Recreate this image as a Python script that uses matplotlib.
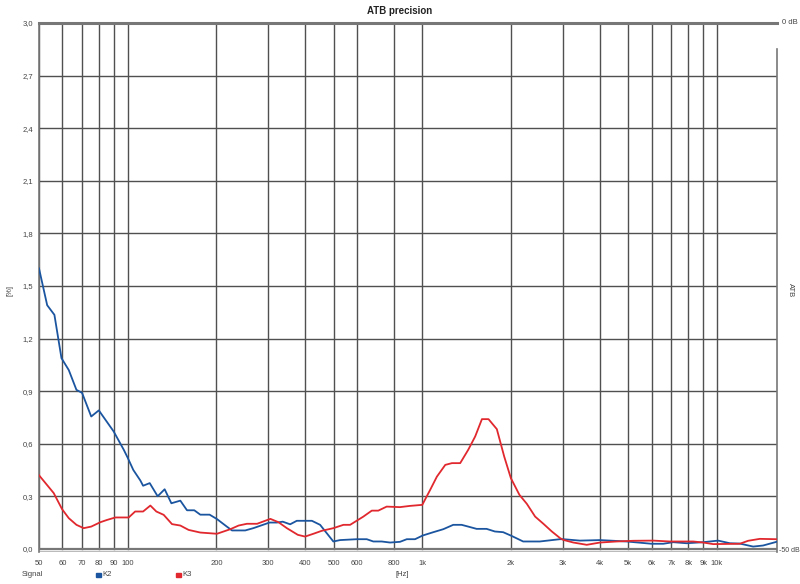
import numpy as np
import matplotlib
matplotlib.use("Agg")
import matplotlib.pyplot as plt

# K2 distortion, frequency [Hz] and level [%]
k2_freq = [50, 53.3, 56.4, 59.6, 63.1, 67.0, 70.0, 75.2, 79.8, 89.6, 97.0, 100,
           104.5, 110.4, 112.8, 118.8, 126.4, 133.5, 140.7, 150.9, 159.0, 168.3,
           176.4, 189.7, 200.9, 217, 226, 250.6, 267, 303, 321, 336, 356, 375,
           400, 422, 450, 499, 526, 599, 648, 682, 728, 777, 840, 886, 945,
           1003, 1090, 1178, 1274, 1360, 1432, 1529, 1653, 1764, 1882, 2009,
           2200, 2506, 2930, 3013, 3430, 4010, 4940, 6000, 6580, 7110, 7890,
           8990, 10100, 11070, 11960, 13280, 14350, 15940]
k2_val = [1.60, 1.39, 1.335, 1.088, 1.02, 0.907, 0.89, 0.755, 0.79, 0.67, 0.565, 0.52,
          0.45, 0.39, 0.36, 0.375, 0.30, 0.34, 0.26, 0.275, 0.22, 0.22,
          0.195, 0.195, 0.17, 0.127, 0.105, 0.105, 0.118, 0.15, 0.15, 0.155, 0.14, 0.16,
          0.16, 0.16, 0.137, 0.042, 0.05, 0.055, 0.055, 0.042, 0.042, 0.036, 0.04, 0.055, 0.055,
          0.076, 0.095, 0.112, 0.137, 0.137, 0.127, 0.114, 0.114, 0.099, 0.095, 0.074,
          0.042, 0.042, 0.055, 0.055, 0.047, 0.05, 0.042, 0.029, 0.029, 0.038, 0.032,
          0.038, 0.047, 0.032, 0.03, 0.013, 0.019, 0.04]

# K3 distortion
k3_freq = [50, 56.1, 59.9, 63.1, 67.0, 70.9, 75.2, 80.8, 85.1, 90.8, 100.8, 106,
           112.8, 119.4, 125.1, 132.5, 141.4, 150.9, 161, 176.4, 200.9, 223, 238,
           254, 275, 305, 325, 347, 378, 400, 427, 456, 499, 540, 569, 631, 674,
           709, 757, 840, 908, 1000, 1064, 1121, 1197, 1261, 1345, 1432, 1512,
           1594, 1678, 1791, 1897, 1999, 2137, 2264, 2416, 2577, 2753, 2937,
           3013, 3258, 3616, 4010, 4570, 5204, 6080, 6930, 8310, 8990, 9710,
           11960, 12770, 13990, 15940]
k3_val = [0.42, 0.318, 0.226, 0.175, 0.137, 0.118, 0.127, 0.152, 0.165, 0.179, 0.179, 0.213,
          0.213, 0.247, 0.213, 0.194, 0.141, 0.133, 0.108, 0.093, 0.086, 0.112, 0.133,
          0.143, 0.143, 0.171, 0.152, 0.118, 0.08, 0.07, 0.086, 0.103, 0.118, 0.137, 0.137, 0.184, 0.218,
          0.218, 0.241, 0.238, 0.245, 0.251, 0.337, 0.412, 0.479, 0.489, 0.489, 0.565, 0.641,
          0.74, 0.74, 0.683, 0.527, 0.403, 0.308, 0.257, 0.184, 0.143, 0.099, 0.061,
          0.051, 0.036, 0.023, 0.036, 0.042, 0.046, 0.047, 0.042, 0.042, 0.036, 0.027,
          0.029, 0.046, 0.057, 0.055]

x_ticks = [50, 60, 70, 80, 90, 100, 200, 300, 400, 500, 600, 800, 1000,
           2000, 3000, 4000, 5000, 6000, 7000, 8000, 9000, 10000]
x_labels = ['50', '60', '70', '80', '90', '100', '200', '300', '400', '500', '600', '800', '1k',
            '2k', '3k', '4k', '5k', '6k', '7k', '8k', '9k', '10k']
y_ticks = [0.0, 0.3, 0.6, 0.9, 1.2, 1.5, 1.8, 2.1, 2.4, 2.7, 3.0]
y_labels = ['0,0', '0,3', '0,6', '0,9', '1,2', '1,5', '1,8', '2,1', '2,4', '2,7', '3,0']

blue = '#1b55a0'
red = '#e0282e'
grid_c = '#505050'
txt_c = '#444444'
plt.rcParams['font.family'] = ['Arial', 'Liberation Sans', 'DejaVu Sans']

fig = plt.figure(figsize=(8, 5.84), dpi=100)
ax = fig.add_axes([39 / 800, 1 - 552 / 584, (777 - 39) / 800, (552 - 23) / 584])
ax.set_xscale('log')
ax.set_xlim(50, 16000)
ax.set_ylim(-0.018, 3.0)

# grid
for f in x_ticks:
    ax.plot([f, f], [0, 3.0], color=grid_c, lw=1.0, zorder=1)
for v in y_ticks[1:-1]:
    ax.axhline(v, color=grid_c, lw=1.0, zorder=1)
ax.axhline(0.0, color='#777777', lw=1.6, zorder=1)
ax.axhline(-0.016, color='#bbbbbb', lw=1.6, zorder=1)

ax.plot(k2_freq, k2_val, color=blue, lw=1.3, zorder=3)
ax.plot(k3_freq, k3_val, color=red, lw=1.3, zorder=3)

for s in ['bottom', 'right']:
    ax.spines[s].set_visible(False)
ax.spines['top'].set_color('#777777')
ax.spines['top'].set_linewidth(2.2)
ax.spines['left'].set_color('#777777')
ax.spines['left'].set_linewidth(1.2)

ax.set_xticks(x_ticks)
ax.set_xticklabels(x_labels)
ax.xaxis.set_minor_locator(matplotlib.ticker.NullLocator())
ax.set_yticks(y_ticks)
ax.set_yticklabels(y_labels)
ax.tick_params(axis='both', length=0, labelsize=5.5, labelcolor=txt_c)
ax.tick_params(axis='x', pad=6)
ax.tick_params(axis='y', pad=4)

# right-hand dB axis
ax.plot([16000, 16000], [-0.018, 2.85], color='#777777', lw=1.2, clip_on=False, zorder=2)
fig.text(782 / 800, 1 - 23 / 584, '0 dB', fontsize=5.5, color=txt_c, va='center', ha='left')
fig.text(779 / 800, 1 - 551 / 584, '-50 dB', fontsize=5, color=txt_c, va='center', ha='left')
fig.text(790 / 800, 1 - 290 / 584, 'ATB', fontsize=5.5, color=txt_c, va='center', ha='center',
         rotation=-90)
fig.text(10 / 800, 1 - 290 / 584, '[%]', fontsize=5.5, color=txt_c, va='center', ha='center',
         rotation=90)

fig.text(400 / 800, 1 - 11 / 584, 'ATB precision', fontsize=7, fontweight='bold',
         color='#222222', ha='center', va='center')

# legend row
fig.text(22 / 800, 1 - 575 / 584, 'Signal', fontsize=5.5, color=txt_c, va='center')
fig.patches.append(matplotlib.patches.Rectangle((96 / 800, 1 - 577 / 584), 5 / 800, 4 / 584,
                                                color=blue, transform=fig.transFigure))
fig.text(102 / 800, 1 - 575 / 584, 'K2', fontsize=5.5, color=txt_c, va='center')
fig.patches.append(matplotlib.patches.Rectangle((176 / 800, 1 - 577 / 584), 5 / 800, 4 / 584,
                                                color=red, transform=fig.transFigure))
fig.text(182 / 800, 1 - 575 / 584, 'K3', fontsize=5.5, color=txt_c, va='center')
fig.text(396 / 800, 1 - 575 / 584, '[Hz]', fontsize=5.5, color=txt_c, va='center')

fig.savefig('out.png', dpi=100)
